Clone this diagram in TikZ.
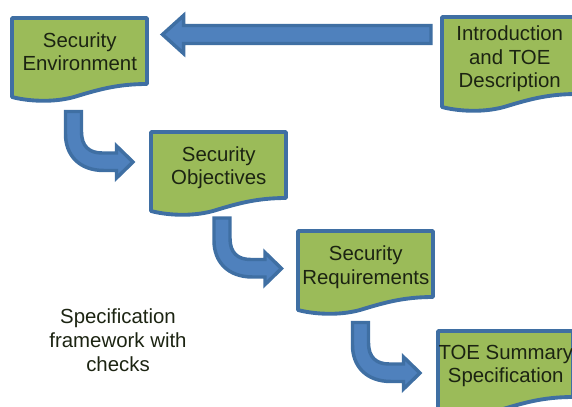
\documentclass[tikz,border=0pt]{standalone}
\usepackage{fontspec}
\setmainfont{Liberation Sans}
\usetikzlibrary{calc}
\definecolor{docgreen}{HTML}{9BBB59}
\definecolor{arrowfill}{HTML}{4F81BD}
\definecolor{edgeblue}{HTML}{3F6FA3}
\definecolor{inktext}{HTML}{1C2412}
\tikzset{
  docline/.style={draw=edgeblue,fill=docgreen,line width=2.9pt,line join=round},
  arrowline/.style={draw=edgeblue,fill=arrowfill,line width=2.6pt,line join=miter},
  doctext/.style={text=inktext,align=center,inner sep=0pt,minimum width=101.25pt,
    font=\fontsize{15.3}{17.5}\selectfont},
  freetext/.style={text=inktext,align=center,inner sep=0pt,
    font=\fontsize{15.3}{18}\selectfont},
}
% [extra height], name, x, y of the corner, half height of the text area, text
\newcommand\docnode[6][0]{%
  \draw[docline,shift={(#3,#4+#1)}] (0,-#1) -- (135,-#1) -- (135,66)
    .. controls (105,66) and (85,72) .. (62,79)
    .. controls (40,85) and (15,83) .. (0,79) -- cycle;
  \node[doctext,minimum height={#5*1.5pt},anchor=north west] (#2) at (#3,#4) {#6};}
% bent block arrow, from the corner given
\newcommand\bentarrow[1]{%
  \draw[arrowline,shift={#1}] (1.5,1.5) -- (17.5,1.5) -- (17.5,22)
    .. controls (17.5,36) and (25,43) .. (38,43) -- (52.5,43) -- (52.5,36)
    -- (69,52) -- (52.5,68) -- (52.5,60.5) -- (40,60.5)
    .. controls (15,60.5) and (1.5,45) .. (1.5,24) -- cycle;}
\begin{document}
\begin{tikzpicture}[x=0.75pt,y=-0.75pt]
\useasboundingbox (0,0) rectangle (572,407);
\clip (0,0) rectangle (572,407);
\docnode{env}{12}{18}{33.5}{Security\\Environment}
\docnode{obj}{151}{132}{35.5}{Security\\Objectives}
\docnode{req}{298}{231}{36}{Security\\Requirements}
\docnode{toe}{438}{331}{35}{TOE Summary\\Specification}
\docnode[11]{intro}{442}{17}{41.5}{\fontsize{15.3}{17.9}\selectfont Introduction\\and TOE\\Description}
\coordinate (tip) at ($(env.north east)+(15,16.5)$);
\coordinate (tail) at ($(intro.north west)+(-11,17.5)$);
\draw[arrowline] (tip) -- ++(21,-19) -- ++(0,10) -- ($(tail)+(0,-9)$)
  -- ($(tail)+(0,9)$) -- ($(tip)+(21,9)$) -- ++(0,10) -- cycle;
\bentarrow{(64,110)}
\bentarrow{(212.5,216.5)}
\bentarrow{(351,321)}
\node[freetext] (label) at (118,340) {Specification\\framework with\\checks};
\end{tikzpicture}
\end{document}
